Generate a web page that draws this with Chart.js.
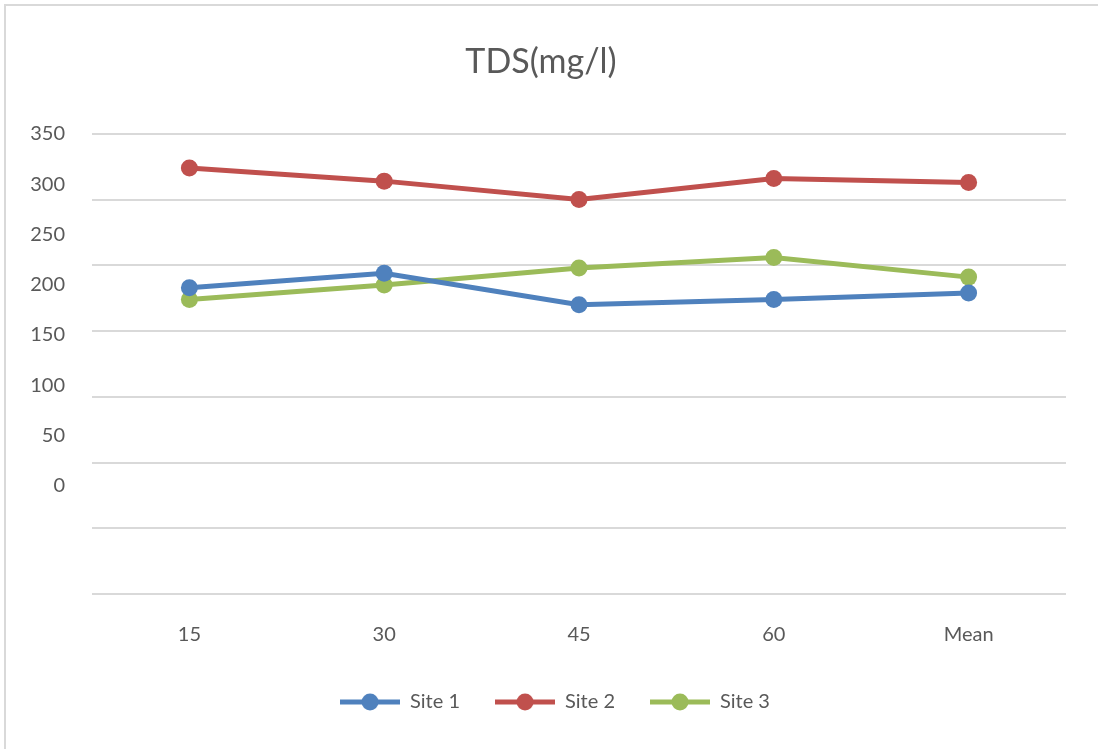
<!DOCTYPE html>
<html>
<head>
<meta charset="utf-8">
<script src="https://cdn.jsdelivr.net/npm/chart.js@4"></script>
<style>
    body { margin: 0; background: #fff; }
    #wrap { position: relative; width: 1098px; height: 749px; }
    #frame { position: absolute; left: 4px; top: 4px; right: 0; bottom: 0; border-left: 2px solid #d9d9d9; border-top: 2px solid #d9d9d9; pointer-events: none; }
</style>
</head>
<body>
<div id="wrap">
    <canvas id="myChart" width="1098" height="749"></canvas>
    <div id="frame"></div>
</div>
<script>
const categories = ['15', '30', '45', '60', 'Mean'];
const site1 = [233, 244, 220, 224, 229];
const site2 = [324, 314, 300, 316, 313];
const site3 = [224, 235, 248, 256, 241];
const tickValues = [0, 50, 100, 150, 200, 250, 300, 350];

const blue = '#4f81bd';
const red = '#c0504d';
const green = '#9bbb59';
const textColor = '#595959';

// legend marker: line with a dot in the middle
function legendMarker(color) {
    let c = document.createElement('canvas');
    c.width = 60;
    c.height = 18;
    let g = c.getContext('2d');
    g.strokeStyle = color;
    g.lineWidth = 5;
    g.beginPath();
    g.moveTo(0, 9);
    g.lineTo(60, 9);
    g.stroke();
    g.fillStyle = color;
    g.beginPath();
    g.arc(30, 9, 8.5, 0, Math.PI * 2);
    g.fill();
    return c;
}

function makeSet(label, data, color) {
    return {
        label: label,
        data: data,
        borderColor: color,
        backgroundColor: color,
        borderWidth: 5,
        pointRadius: 8.5,
        pointBorderWidth: 0,
        pointBackgroundColor: color,
        pointStyle: 'circle',
        tension: 0,
        yAxisID: 'y'
    };
}

const markers = [legendMarker(blue), legendMarker(red), legendMarker(green)];

// nudge title and legend sideways a little, like the original
const nudge = {
    id: 'nudge',
    afterLayout(chart) {
        chart.titleBlock.left += 8;
        chart.titleBlock.right += 8;
        chart.legend.left += 22;
        chart.legend.right += 22;
    }
};

const ctx = document.getElementById('myChart');
new Chart(ctx, {
    type: 'line',
    data: {
        labels: categories,
        datasets: [
            makeSet('Site 1', site1, blue),
            makeSet('Site 2', site2, red),
            makeSet('Site 3', site3, green)
        ]
    },
    plugins: [nudge],
    options: {
        responsive: false,
        animation: false,
        layout: { padding: { left: 0, right: 32, top: 0, bottom: 27 } },
        plugins: {
            title: {
                display: true,
                text: 'TDS(mg/l)',
                color: textColor,
                font: { family: 'Lato', size: 34, weight: 'normal' },
                padding: { top: 42, bottom: 51 }
            },
            legend: {
                position: 'bottom',
                labels: {
                    color: textColor,
                    font: { family: 'Lato', size: 20 },
                    usePointStyle: true,
                    pointStyleWidth: 60,
                    padding: 35,
                    generateLabels: chart => chart.data.datasets.map((ds, i) => ({
                        text: ds.label,
                        pointStyle: markers[i],
                        fillStyle: ds.borderColor,
                        strokeStyle: ds.borderColor,
                        lineWidth: 0,
                        fontColor: textColor,
                        datasetIndex: i
                    }))
                }
            },
            tooltip: { enabled: false }
        },
        scales: {
            x: {
                offset: true,
                grid: { display: false },
                border: { display: false },
                ticks: { color: textColor, font: { family: 'Lato', size: 20 }, padding: 21 },
                afterFit: scale => { scale.height = 63; }
            },
            y: {
                position: 'left',
                min: 0,
                max: 350,
                ticks: { display: false, stepSize: 50 },
                grid: { color: '#d9d9d9', lineWidth: 2, drawTicks: false },
                border: { display: false },
                afterFit: scale => { scale.width = 0; }
            },
            yLabels: {
                position: 'left',
                min: -107.5,
                max: 350,
                afterBuildTicks: scale => { scale.ticks = tickValues.map(v => ({ value: v })); },
                ticks: { color: textColor, font: { family: 'Lato', size: 20 }, padding: 27 },
                grid: { display: false, drawTicks: false },
                border: { display: false },
                afterFit: scale => { scale.width = 92; }
            }
        }
    }
});
</script>
</body>
</html>
